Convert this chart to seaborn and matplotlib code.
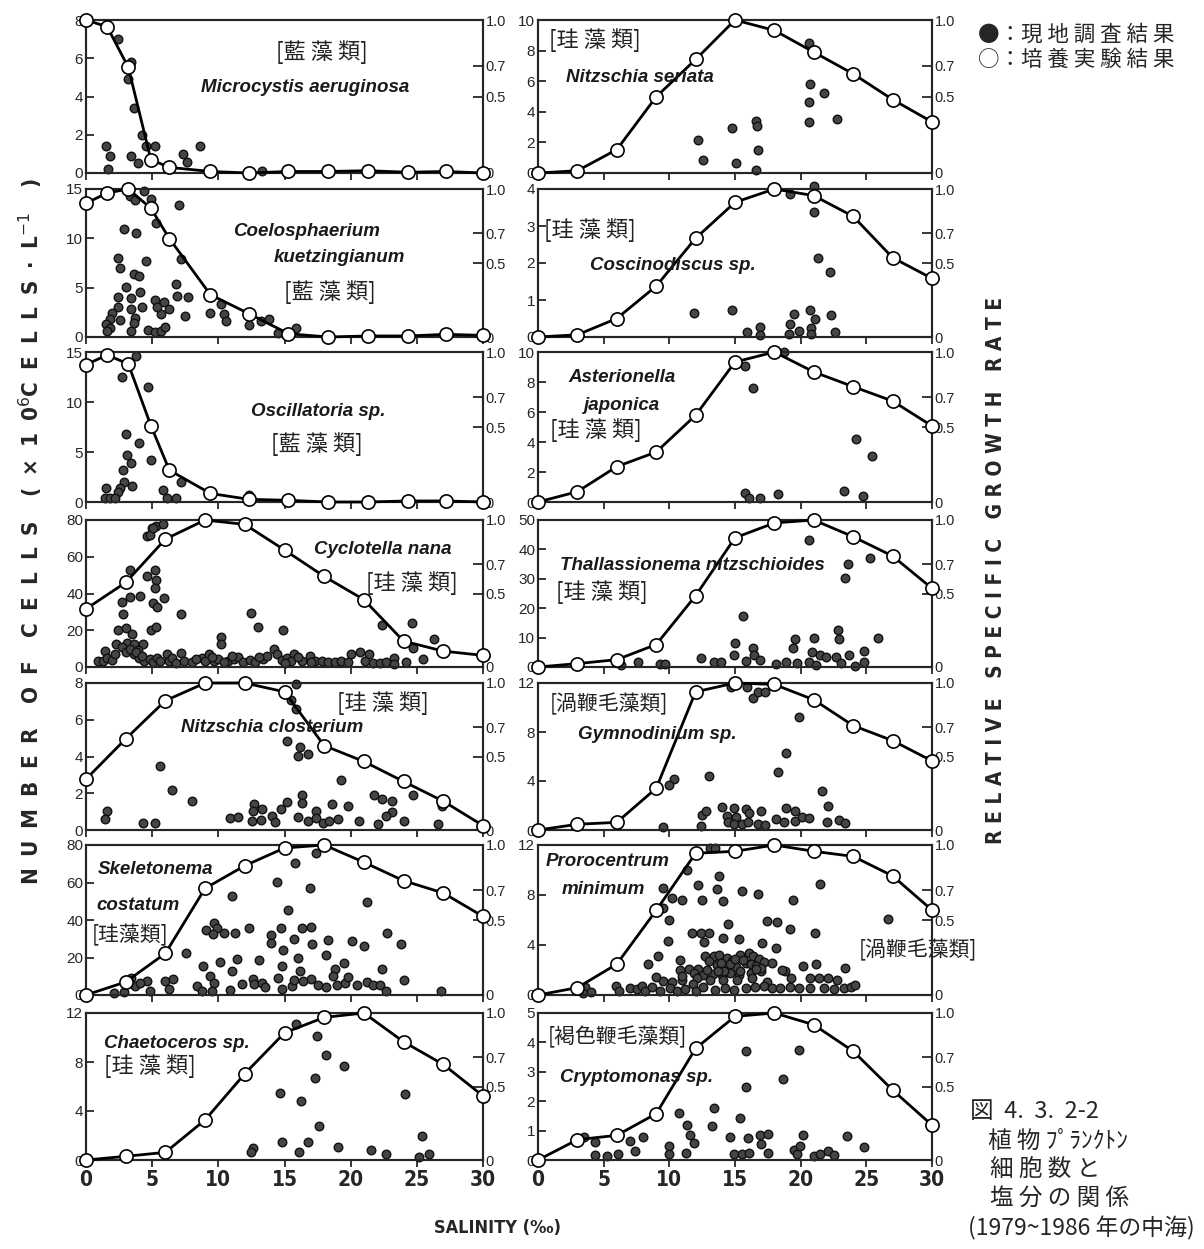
import matplotlib
matplotlib.use("Agg")
import matplotlib.pyplot as plt
from matplotlib import font_manager
import seaborn as sns

# ---------------- data ----------------
# salinity of the culture experiments (open circles)
SAL_LOW = [0, 1.6, 3.2, 4.9, 6.3, 9.4, 12.3, 15.3, 18.3, 21.3, 24.3, 27.2, 30]
SAL_GRID = [0, 3, 6, 9, 12, 15, 18, 21, 24, 27, 30]

# relative specific growth rate (right axis)
MICRO_RATE = [1.0, 0.956, 0.69, 0.0875, 0.037, 0.01, 0.0, 0.01, 0.01, 0.015, 0.005, 0.01, 0.0]
COELO_RATE = [0.904, 0.973, 1.0, 0.87, 0.665, 0.286, 0.158, 0.022, 0.0, 0.007, 0.007, 0.018, 0.011]
OSCIL_RATE = [0.916, 0.98, 0.92, 0.51, 0.212, 0.057, 0.018, 0.011, 0.0, 0.0, 0.007, 0.007, 0.0]
CYCLO_RATE = [0.395, 0.575, 0.87, 1.0, 0.97, 0.796, 0.616, 0.458, 0.176, 0.108, 0.079]
NCLOS_RATE = [0.346, 0.62, 0.88, 1.0, 1.0, 0.94, 0.574, 0.466, 0.33, 0.196, 0.03]
SKEL_RATE = [0.0, 0.087, 0.278, 0.711, 0.862, 0.98, 1.0, 0.885, 0.762, 0.68, 0.524]
CHAET_RATE = [0.0, 0.025, 0.052, 0.273, 0.587, 0.865, 0.97, 1.0, 0.804, 0.65, 0.436]
NSER_RATE = [0.0, 0.015, 0.153, 0.498, 0.742, 1.0, 0.932, 0.79, 0.648, 0.48, 0.334]
COSC_RATE = [0.0, 0.015, 0.125, 0.344, 0.667, 0.91, 1.0, 0.955, 0.815, 0.536, 0.396]
ASTER_RATE = [0.0, 0.069, 0.236, 0.333, 0.578, 0.933, 1.0, 0.867, 0.769, 0.673, 0.507]
THAL_RATE = [0.0, 0.023, 0.05, 0.153, 0.485, 0.879, 0.98, 1.0, 0.886, 0.755, 0.535]
GYMNO_RATE = [0.0, 0.039, 0.052, 0.284, 0.94, 1.0, 0.99, 0.886, 0.71, 0.608, 0.47]
PRORO_RATE = [0.0, 0.049, 0.206, 0.564, 0.945, 0.958, 1.0, 0.958, 0.924, 0.794, 0.566]
CRYPT_RATE = [0.0, 0.138, 0.168, 0.315, 0.759, 0.977, 1.0, 0.92, 0.74, 0.476, 0.237]

# field survey: salinity / cell number (x10^6 cells/L)
MICRO_SAL = [2.4, 3.4, 3.2, 3.6, 4.2, 1.5, 1.8, 1.7, 3.4, 3.9, 4.5, 5.2, 7.3, 7.6, 8.6, 13.3]
MICRO_CELLS = [7.0, 5.8, 4.9, 3.4, 2.0, 1.4, 0.9, 0.2, 0.9, 0.5, 1.4, 1.4, 1.0, 0.6, 1.4, 0.1]

COELO_SAL = [3.3, 3.7, 4.4, 4.9, 5.3, 7.0, 2.9, 3.8, 7.2, 2.4, 2.6, 4.5, 3.6, 4.0, 3.0, 4.1, 6.8,
             2.4, 3.4, 6.9, 7.7, 2.4, 3.4, 4.2, 5.2, 5.4, 5.9, 6.3, 5.7, 2.0, 1.8, 1.5, 1.8, 2.6,
             3.7, 3.6, 3.4, 4.7, 5.2, 5.7, 6.0, 7.5, 9.4, 10.2, 10.4, 10.6, 12.3, 13.2, 13.8, 14.5,
             15.9, 1.6]
COELO_CELLS = [14.3, 13.9, 14.8, 14.0, 11.6, 13.4, 10.9, 10.5, 7.9, 8.0, 7.0, 7.7, 6.4, 6.2, 5.1,
               4.6, 5.4, 4.1, 4.0, 4.2, 4.1, 3.0, 2.8, 3.0, 3.8, 3.0, 3.5, 2.8, 2.3, 2.4, 1.8, 1.3,
               0.9, 1.7, 1.9, 1.4, 0.6, 0.7, 0.5, 0.6, 1.0, 2.1, 2.4, 3.3, 2.3, 1.6, 1.2, 1.6, 1.8,
               0.4, 0.9, 0.6]

OSCIL_SAL = [3.75, 2.75, 4.7, 3.05, 4.0, 3.1, 4.9, 3.4, 2.8, 2.85, 2.6, 3.5, 1.5, 2.4, 1.4, 1.8,
             2.2, 5.8, 6.1, 6.8, 7.15, 12.3]
OSCIL_CELLS = [14.6, 12.5, 11.5, 6.8, 5.9, 4.7, 4.2, 3.9, 3.25, 2.0, 1.4, 1.6, 1.4, 1.0, 0.45, 0.45,
               0.45, 1.2, 0.45, 0.45, 2.0, 0.7]

CYCLO_SAL = [5.0, 5.3, 5.8, 4.6, 4.8, 5.1, 3.3, 5.2, 4.6, 5.3, 5.2, 3.3, 4.1, 2.7, 5.1, 5.4, 5.9,
             7.2, 2.8, 2.4, 3.0, 3.5, 4.9, 5.3, 2.3, 3.1, 3.6, 4.3, 2.7, 3.9, 10.2, 10.2, 12.5,
             13.0, 14.9, 14.2, 22.4, 24.6, 26.3, 24.7, 25.5, 20.0, 20.7, 21.4,
             0.9, 1.25, 1.4, 1.6, 3.6, 4.0, 4.4, 4.8, 5.1, 5.4, 5.6, 6.1, 6.3, 6.5, 6.8, 7.2, 7.4,
             8.0, 8.8, 9.0, 9.3, 9.7, 10.0, 10.7, 11.2, 11.5, 11.9, 12.4, 13.4, 13.7, 14.4, 14.8,
             15.2, 15.7, 15.5, 16.3, 16.9, 17.3, 17.8, 18.3, 18.8, 19.3, 21.1, 21.7, 22.2, 22.7,
             23.3, 23.3, 24.2,
             2.0, 2.2, 3.0, 3.3, 3.8, 4.2, 8.3, 9.5, 10.4, 11.0, 12.8, 13.1, 15.0, 16.0, 17.0, 19.8]
CYCLO_CELLS = [75.5, 77, 77.6, 71.5, 71.8, 75.8, 52.9, 52.9, 49.6, 47.5, 43, 38.1, 38.8, 35.4,
               34.8, 32.5, 37.5, 28.9, 28.9, 19.9, 21.3, 18, 19.9, 21.7, 12.3, 13.2, 12.3, 12.3,
               11, 9.0, 16.2, 12.3, 29.4, 21.8, 20.4, 9.6, 23.1, 24, 15.3, 10.5, 4.5, 6.9, 8.3, 6.9,
               3.2, 3.2, 8.7, 5, 6.9, 5, 3.2, 4.2, 2.9, 5, 3.2, 6.9, 3.2, 5, 2.3, 7.8, 3.2, 2.9, 5,
               3.2, 6.9, 3.2, 4.2, 3.2, 4.2, 5.4, 2.9, 3.6, 4.2, 6, 6.9, 3.6, 5, 6.9, 3.2, 3.2, 6,
               3.2, 3.2, 2.9, 2.9, 3.2, 3.2, 2.3, 2.3, 2.9, 4.7, 1.4, 2.9,
               4, 7, 8, 10, 8, 6, 4.5, 5.5, 2.5, 6, 2.5, 5.5, 2.0, 5.5, 2.5, 2.5]

NCLOS_SAL = [15.9, 15.5, 15.9, 15.2, 16.2, 16.0, 16.8, 5.6, 6.5, 8.0, 1.6, 1.4, 4.3, 5.2, 10.9,
             11.5, 12.7, 12.6, 13.3, 12.55, 13.2, 14.05, 14.3, 14.7, 15.2, 16.3, 16.3, 16.05, 16.8,
             17.4, 17.4, 17.9, 18.6, 18.4, 19.06, 19.3, 19.8, 20.6, 21.8, 22.4, 23.1, 23.1, 22.7,
             22.1, 24.0, 24.7, 26.6, 26.9]
NCLOS_CELLS = [7.96, 7.1, 6.6, 4.85, 4.54, 4.04, 4.13, 3.46, 2.2, 1.6, 1.03, 0.58, 0.4, 0.4, 0.67,
               0.7, 1.42, 1.03, 1.13, 0.49, 0.52, 0.76, 0.45, 1.17, 1.53, 1.89, 1.48, 0.7, 0.49,
               1.03, 0.67, 0.4, 1.42, 0.49, 0.58, 2.74, 1.3, 0.49, 1.93, 1.66, 1.6, 0.99, 0.76,
               0.31, 0.49, 1.93, 0.31, 1.3]

SKEL_SAL = [17.4, 15.8, 14.4, 16.9, 11.06, 21.2, 15.3, 7.58, 9.1, 9.7, 9.9, 9.6, 10.4, 11.26, 12.3,
            14.7, 16.3, 17.0, 14.0, 14.0, 15.7, 14.85, 17.1, 18.3, 20.1, 21.0, 22.75, 23.8, 8.84,
            10.1, 11.4, 13.1, 16.0, 18.1, 11.0, 14.8, 16.2, 19.5, 18.8, 18.7, 22.4, 24.0, 9.4,
            9.67, 4.6, 3.4, 6.0, 6.6, 8.36, 8.8, 9.5, 10.9, 11.8, 12.6, 12.7, 13.3, 13.5, 14.5,
            14.8, 15.6, 15.7, 16.4, 17.0, 17.5, 18.1, 19.0, 19.6, 19.8, 20.5, 21.2, 21.7, 22.2,
            22.7, 26.8, 2.1, 2.85, 3.7, 4.87, 6.26, 4.1]
SKEL_CELLS = [75.6, 70.2, 60.4, 57.2, 52.8, 49.4, 45.1, 22.6, 34.8, 38.3, 35.5, 32.5, 32.9, 32.9,
              35.5, 35.7, 35.5, 36.1, 32.1, 28, 30.1, 24, 27.3, 29.4, 28.9, 26.2, 33, 27.1, 15.5,
              17.8, 19.1, 18.5, 20, 21.2, 12.8, 15.5, 12.8, 16.9, 14.1, 10.2, 13.7, 8.0, 10.2,
              6.6, 7.5, 9.3, 7.5, 8.7, 4.8, 2.1, 2.1, 2.7, 5.7, 8.7, 5.7, 6.6, 4.5, 9.3, 3.4, 4.8,
              8, 7.5, 8.7, 5.1, 4.5, 5.1, 6.2, 9.8, 5.1, 7, 5.1, 5.1, 2.1, 2.1, 1.2, 1.6, 4.8, 2.1,
              3.0, 6.2]

CHAET_SAL = [15.86, 17.45, 18.1, 19.5, 17.3, 14.65, 16.24, 24.07, 17.6, 14.8, 16.8, 25.4, 12.6,
             12.45, 16.1, 19.06, 21.5, 22.7, 25.2, 25.9]
CHAET_CELLS = [11.1, 10.1, 8.56, 7.67, 6.72, 5.45, 4.83, 5.37, 2.8, 1.49, 1.49, 1.98, 0.95, 0.68,
               0.68, 1.03, 0.81, 0.49, 0.22, 0.49]

NSER_SAL = [12.2, 12.55, 14.8, 15.07, 16.6, 16.7, 16.75, 16.6, 20.6, 20.7, 21.8, 20.6, 20.6, 22.8]
NSER_CELLS = [2.14, 0.83, 2.95, 0.65, 3.43, 3.1, 1.53, 0.22, 8.5, 5.83, 5.24, 4.65, 3.34, 3.54]

COSC_SAL = [19.15, 21.05, 21.05, 21.3, 22.2, 11.9, 14.8, 15.9, 16.9, 16.9, 19.5, 19.2, 19.1,
            19.85, 20.7, 21.1, 20.8, 20.8, 22.3, 22.6]
COSC_CELLS = [3.86, 4.09, 3.37, 2.13, 1.76, 0.65, 0.74, 0.14, 0.26, 0.06, 0.63, 0.36, 0.09, 0.17,
              0.72, 0.5, 0.23, 0.08, 0.59, 0.14]

ASTER_SAL = [15.75, 16.36, 18.7, 24.25, 25.4, 15.75, 16.05, 16.87, 18.3, 23.3, 24.75]
ASTER_CELLS = [9.07, 7.58, 10.0, 4.18, 3.07, 0.62, 0.29, 0.29, 0.56, 0.73, 0.4]

THAL_SAL = [20.6, 23.6, 23.4, 25.3, 15.6, 25.9, 22.86, 22.9, 19.6, 21.0, 14.98, 19.4, 16.4, 16.45,
            14.9, 24.8, 23.7, 20.9, 21.5, 21.9, 22.7, 12.4, 13.4, 13.9, 7.6, 6.3, 9.3, 9.7, 15.8,
            16.9, 18.1, 18.9, 19.75, 20.6, 21.2, 23.1, 24.1, 24.8]
THAL_CELLS = [43.1, 35.1, 30.2, 37, 17.4, 9.9, 12.5, 9.4, 9.6, 9.9, 8.2, 6.5, 6.3, 4.2, 4.0, 5.4,
              4.0, 5.0, 4.2, 3.4, 3.4, 3.1, 1.6, 1.6, 1.6, 0.8, 1.1, 1.1, 1.9, 2.5, 1.1, 1.6, 1.4,
              1.6, 0.8, 1.4, 0.5, 1.6]

GYMNO_SAL = [14.7, 15.9, 16.4, 16.76, 17.3, 19.9, 18.9, 18.3, 13.0, 10.35, 9.97, 21.6, 22.1, 9.53,
             12.4, 12.5, 12.76, 14.0, 14.9, 15.8, 16.96, 14.4, 15.1, 16.1, 14.5, 14.9, 15.5, 16.0,
             16.76, 17.3, 18.1, 18.7, 18.9, 19.55, 19.6, 20.1, 20.6, 22.0, 22.9, 23.4]
GYMNO_CELLS = [11.7, 11.7, 10.8, 11.3, 11.3, 9.2, 6.3, 4.7, 4.4, 4.2, 3.7, 3.2, 1.96, 0.27, 0.33,
               1.2, 1.53, 1.88, 1.8, 1.74, 1.53, 1.14, 1.1, 1.36, 0.63, 0.46, 0.46, 0.63, 0.46,
               0.4, 0.9, 0.63, 1.77, 1.53, 0.74, 1.1, 1.0, 0.68, 0.82, 0.55]

PRORO_SAL = [13.1, 13.5, 11.35, 13.76, 12.2, 9.5, 13.65, 15.5, 16.75, 21.45, 10.2, 11.0, 12.5,
             14.1, 19.4, 9.5, 10.0, 14.5, 17.4, 18.2, 26.65, 11.7, 12.4, 13.0, 19.2, 21.1, 14.1,
             15.3, 9.9, 12.66, 17.06, 18.15, 9.1, 8.35, 10.84, 21.2, 20.2, 23.4, 18.8,
             12.7, 13.4, 13.76, 14.4, 14.8, 15.4, 16.04, 16.4, 16.8, 17.2, 15.8, 15.1, 14.4, 13.6,
             12.2, 11.5, 10.84, 11.85, 12.6, 13.3, 14.0, 14.65, 15.3, 16.2, 17.0, 17.8, 18.6,
             19.3, 20.7, 21.4, 22.1, 22.8, 9.0, 9.5, 10.2, 10.96, 12.1, 13.1, 14.1, 15.15, 16.3,
             17.4,
             13.0, 13.9, 14.6, 15.0, 15.6, 16.2, 16.6, 17.0, 14.2, 15.4, 16.6, 12.9, 13.7, 11.0,
             11.8,
             3.6, 3.43, 4.0, 5.96, 6.14, 7.0, 7.5, 7.9, 8.17, 8.68, 9.3, 10.07, 10.6, 11.2, 12.06,
             12.6, 13.5, 14.26, 14.95, 15.8, 16.55, 17.2, 17.8, 18.45, 19.16, 19.85, 20.7, 21.75,
             22.5, 23.27, 23.8, 24.16]
PRORO_CELLS = [11.8, 11.8, 9.98, 9.5, 8.84, 8.6, 8.45, 8.3, 8.05, 8.86, 7.8, 7.6, 7.6, 7.5, 7.57,
               6.98, 6.04, 5.7, 5.9, 5.85, 6.12, 5.0, 5.0, 4.96, 5.3, 5.0, 4.6, 4.5, 4.35, 4.24,
               4.2, 3.8, 3.1, 2.47, 2.8, 2.47, 2.3, 2.15, 1.93,
               3.14, 3.16, 3.2, 3.0, 2.74, 3.2, 3.36, 3.1, 2.9, 2.63, 2.55, 2.28, 2.28, 2.42, 2.1,
               2.1, 2.0, 1.75, 1.6, 1.66, 1.6, 1.75, 1.6, 1.75, 1.9, 2.55, 2.0, 1.35, 1.35, 1.4,
               1.35, 1.2, 1.48, 1.13, 1.07, 1.2, 1.35, 1.2, 1.2, 1.2, 1.35, 1.07,
               2.7, 2.6, 2.5, 2.9, 2.8, 2.5, 2.3, 2.2, 1.9, 1.95, 2.1, 2.0, 1.9, 1.5, 0.9,
               0.67, 0.13, 0.21, 0.75, 0.32, 0.54, 0.48, 0.75, 0.32, 0.67, 0.32, 0.59, 0.32, 0.51,
               0.32, 0.67, 0.4, 0.59, 0.4, 0.54, 0.67, 0.75, 0.59, 0.54, 0.67, 0.54, 0.59, 0.59,
               0.48, 0.54, 0.67, 0.8]

CRYPT_SAL = [15.86, 19.9, 18.65, 15.8, 13.4, 10.7, 15.4, 11.35, 13.25, 3.48, 4.37, 7.0, 7.97, 10.0,
             11.6, 11.9, 14.6, 16.0, 16.9, 17.5, 17.0, 20.2, 23.5, 24.8, 4.37, 5.25, 6.07, 7.4,
             10.0, 11.3, 14.9, 15.5, 16.1, 17.5, 19.5, 19.97, 19.7, 21.0, 21.5, 22.1, 22.56]
CRYPT_CELLS = [3.7, 3.74, 2.76, 2.49, 1.78, 1.6, 1.44, 1.18, 1.15, 0.77, 0.61, 0.66, 0.77, 0.46,
               0.84, 0.57, 0.77, 0.75, 0.84, 0.89, 0.54, 0.84, 0.8, 0.43, 0.17, 0.15, 0.2, 0.31,
               0.2, 0.23, 0.2, 0.2, 0.23, 0.23, 0.34, 0.46, 0.2, 0.15, 0.2, 0.29, 0.17]

SAL_TICKS = [0, 5, 10, 15, 20, 25, 30]
RATE_TICKS = [0, 0.5, 0.7, 1.0]
RATE_TICK_LABELS = ["0", "0.5", "0.7", "1.0"]

# ---------------- style ----------------
sns.set_style("ticks")
names = {f.name for f in font_manager.fontManager.ttflist}
SANS = "Liberation Sans" if "Liberation Sans" in names else "DejaVu Sans"
JP = ["Noto Sans CJK JP", "DejaVu Sans"]
# bold condensed look of the typewritten axis titles
COND = dict(family="DejaVu Sans", fontstretch="condensed", fontweight="bold")
plt.rcParams["font.family"] = [SANS, "Noto Sans CJK JP", "DejaVu Sans"]
plt.rcParams["axes.linewidth"] = 1.5

W, H = 1204, 1249
fig = plt.figure(figsize=(W / 100, H / 100), dpi=100)

COLS = [(86, 483), (538, 932)]
ROWS = [(20, 173), (189, 337), (352, 502), (520, 667), (683, 830), (845, 995), (1013, 1160)]


def ftext(x, y, s, **kw):
    kw.setdefault("ha", "center")
    kw.setdefault("va", "center")
    return fig.text(x / W, 1 - y / H, s, **kw)


def sp(x, y, s):
    ftext(x, y, s, style="italic", fontsize=13.5, fontweight="bold", family=SANS,
          color="#1a1a1a")


def jp(x, y, s, size=16):
    ftext(x, y, s, fontsize=size, family=JP, color="#222222")


# (col, row, field sal, field cells, rate sal, rate, ymax, yticks)
PANELS = [
    (0, 0, MICRO_SAL, MICRO_CELLS, SAL_LOW, MICRO_RATE, 8, [0, 2, 4, 6, 8]),
    (0, 1, COELO_SAL, COELO_CELLS, SAL_LOW, COELO_RATE, 15, [0, 5, 10, 15]),
    (0, 2, OSCIL_SAL, OSCIL_CELLS, SAL_LOW, OSCIL_RATE, 15, [0, 5, 10, 15]),
    (0, 3, CYCLO_SAL, CYCLO_CELLS, SAL_GRID, CYCLO_RATE, 80, [0, 20, 40, 60, 80]),
    (0, 4, NCLOS_SAL, NCLOS_CELLS, SAL_GRID, NCLOS_RATE, 8, [0, 2, 4, 6, 8]),
    (0, 5, SKEL_SAL, SKEL_CELLS, SAL_GRID, SKEL_RATE, 80, [0, 20, 40, 60, 80]),
    (0, 6, CHAET_SAL, CHAET_CELLS, SAL_GRID, CHAET_RATE, 12, [0, 4, 8, 12]),
    (1, 0, NSER_SAL, NSER_CELLS, SAL_GRID, NSER_RATE, 10, [0, 2, 4, 6, 8, 10]),
    (1, 1, COSC_SAL, COSC_CELLS, SAL_GRID, COSC_RATE, 4, [0, 1, 2, 3, 4]),
    (1, 2, ASTER_SAL, ASTER_CELLS, SAL_GRID, ASTER_RATE, 10, [0, 2, 4, 6, 8, 10]),
    (1, 3, THAL_SAL, THAL_CELLS, SAL_GRID, THAL_RATE, 50, [0, 10, 20, 30, 40, 50]),
    (1, 4, GYMNO_SAL, GYMNO_CELLS, SAL_GRID, GYMNO_RATE, 12, [0, 4, 8, 12]),
    (1, 5, PRORO_SAL, PRORO_CELLS, SAL_GRID, PRORO_RATE, 12, [0, 4, 8, 12]),
    (1, 6, CRYPT_SAL, CRYPT_CELLS, SAL_GRID, CRYPT_RATE, 5, [0, 1, 2, 3, 4, 5]),
]

for col, row, fs, fc, rs, rv, ymax, yticks in PANELS:
    (x0, x1), (y0, y1) = COLS[col], ROWS[row]
    ax = fig.add_axes([x0 / W, 1 - y1 / H, (x1 - x0) / W, (y1 - y0) / H])
    sns.scatterplot(x=fs, y=fc, ax=ax, s=38, color="#454545", edgecolor="#111111",
                    linewidth=1.0, legend=False, zorder=3, clip_on=False)
    ax.set_xlim(0, 30)
    ax.set_ylim(0, ymax)
    ax.set_yticks(yticks)
    ax.set_xticks(SAL_TICKS)
    ax.tick_params(axis="y", direction="in", length=6, width=1.3, labelsize=11, pad=2,
                   right=False)
    ax.tick_params(axis="x", direction="out", length=5, width=1.3, pad=2)
    if row == 6:
        ax.set_xticklabels([str(t) for t in SAL_TICKS], fontsize=15, **COND)
    else:
        ax.tick_params(labelbottom=False)
    ax.set_xlabel("")
    ax.set_ylabel("")

    ax2 = ax.twinx()
    sns.lineplot(x=rs, y=rv, ax=ax2, color="black", linewidth=2.0, marker="o",
                 markersize=9.5, markerfacecolor="white", markeredgecolor="black",
                 markeredgewidth=1.2, clip_on=False, zorder=4)
    ax2.set_ylim(0, 1)
    ax2.set_yticks(RATE_TICKS)
    ax2.set_yticklabels(RATE_TICK_LABELS, fontsize=10.5, family=SANS)
    ax2.tick_params(axis="y", direction="in", length=7, width=1.3, pad=2)
    ax2.set_xlabel("")
    ax2.set_ylabel("")
    for s in ax2.spines.values():
        s.set_linewidth(1.5)

# ---------------- panel labels ----------------
jp(322, 52, "[藍 藻 類]")
sp(305, 87, "Microcystis aeruginosa")
sp(307, 232, "Coelosphaerium")
sp(339, 257, "kuetzingianum")
jp(330, 292, "[藍 藻 類]")
sp(318, 411, "Oscillatoria sp.")
jp(317, 444, "[藍 藻 類]")
sp(383, 550, "Cyclotella nana")
jp(412, 583, "[珪 藻 類]")
jp(383, 703, "[珪 藻 類]")
sp(272, 728, "Nitzschia closterium")
sp(156, 869, "Skeletonema")
sp(138, 905, "costatum")
jp(130, 935, "[珪藻類]", 15)
sp(177, 1043, "Chaetoceros sp.")
jp(150, 1066, "[珪 藻 類]")

jp(595, 40, "[珪 藻 類]")
sp(640, 77, "Nitzschia seriata")
jp(590, 230, "[珪 藻 類]")
sp(673, 266, "Coscinodiscus sp.")
sp(622, 378, "Asterionella")
sp(621, 405, "japonica")
jp(596, 430, "[珪 藻 類]")
sp(692, 565, "Thallassionema nitzschioides")
jp(602, 592, "[珪 藻 類]")
jp(609, 704, "[渦鞭毛藻類]", 15)
sp(657, 735, "Gymnodinium sp.")
sp(608, 861, "Prorocentrum")
sp(603, 889, "minimum")
jp(918, 950, "[渦鞭毛藻類]", 15)
jp(617, 1037, "[褐色鞭毛藻類]", 15)
sp(637, 1078, "Cryptomonas sp.")

# ---------------- axis titles, legend, caption ----------------
GAP = "\u2002\u200a"
ftext(31, 532, GAP.join("NUMBER") + GAP * 2 + GAP.join("OF") + GAP * 2 + GAP.join("CELLS")
      + GAP * 2 + "(" + GAP + "×" + GAP + "1" + GAP + "0$^{6}$" + GAP.join("CELLS") + GAP
      + "·" + GAP + "L$^{-1}$" + GAP * 2 + ")",
      rotation=90, fontsize=16, **COND)
ftext(996, 570, " ".join("RELATIVE") + "   " + " ".join("SPECIFIC") + "   "
      + " ".join("GROWTH") + "   " + " ".join("RATE"),
      rotation=90, fontsize=15, **COND)
ftext(497, 1228, "SALINITY (‰)", fontsize=13, **COND)

ftext(978, 35, "●：現 地 調 査 結 果", ha="left", fontsize=15.5, family=JP)
ftext(978, 60, "○：培 養 実 験 結 果", ha="left", fontsize=15.5, family=JP)

ftext(970, 1112, "図  4.  3.  2-2", ha="left", fontsize=17, family=JP)
ftext(988, 1141, "植 物 ﾌﾟﾗﾝｸﾄﾝ", ha="left", fontsize=17, family=JP)
ftext(990, 1170, "細 胞 数 と", ha="left", fontsize=17, family=JP)
ftext(990, 1199, "塩 分 の 関 係", ha="left", fontsize=17, family=JP)
ftext(968, 1228, "(1979~1986 年の中海)", ha="left", fontsize=16.5, family=JP)

fig.savefig("out.png", dpi=100, facecolor="white")
